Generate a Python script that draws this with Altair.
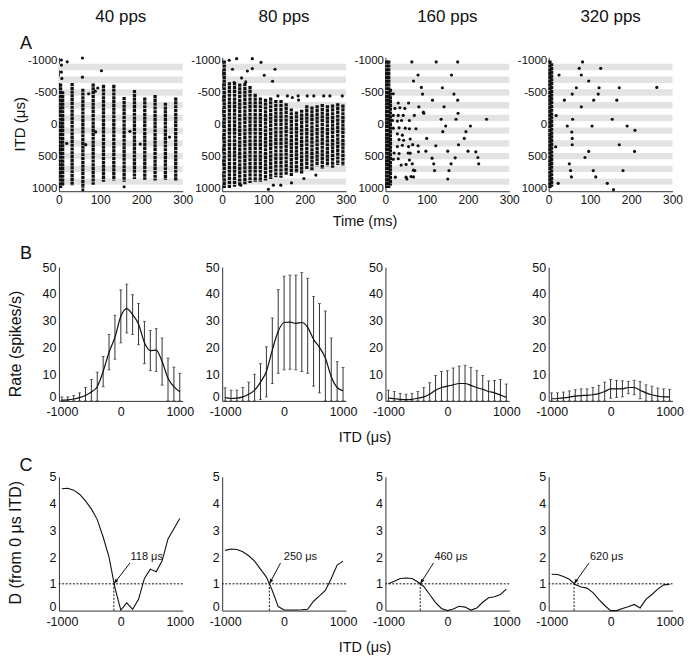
import math
import altair as alt
import pandas as pd

FONT = "Liberation Sans"
INK = "#111111"
W, H = 124, 134

HEADERS = ["40 pps", "80 pps", "160 pps", "320 pps"]
TIME_SPAN = [0, 300]

# ---------- Row A: raster ----------
BAND_ITD = [-900, -700, -500, -300, -100, 100, 300, 500, 700, 900]

# dense spike columns: (time ms, ITD from, ITD to)
SEG_40 = [(4, -640, 1000), (9, -520, 960), (32, -650, 960), (58, -560, 1000),
          (83, -640, 950), (108, -620, 900), (133, -620, 880), (158, -430, 900),
          (183, -540, 860), (208, -420, 870), (233, -460, 880), (258, -340, 870),
          (283, -420, 880)]
DOT_40 = [(6, -1010), (6, -930), (6, -820), (7, -720), (20, -980), (57, -1040),
          (57, -740), (103, -840), (72, -480), (88, -520), (94, -570), (19, 300),
          (65, 320), (89, 120), (172, 110), (197, 310), (268, 200), (158, 980),
          (58, 1030)]

SEG_80 = [(5, -1000, 1000), (17.5, -660, 1000), (30, -660, 980), (42.5, -640, 960),
          (55, -650, 940), (67.5, -600, 920), (80, -480, 900), (92.5, -420, 900),
          (105, -400, 880), (117.5, -420, 860), (130, -380, 830), (142.5, -380, 840),
          (155, -330, 800), (167.5, -250, 820), (180, -200, 760), (192.5, -230, 780),
          (205, -300, 700), (217.5, -280, 720), (230, -300, 660), (242.5, -320, 700),
          (255, -300, 660), (267.5, -310, 680), (280, -330, 640), (292.5, -310, 650)]
DOT_80 = [(35, -1030), (73, -1030), (94, -973), (25, -864), (61, -837), (73, -874),
          (128, -864), (102, -770), (122, -676), (47, -728), (29, -655), (57, -665),
          (17, -1005), (135, -446), (158, -446), (184, -446), (206, -446), (222, -446),
          (246, -446), (261, -446), (291, -446), (112, 1020), (124, 955), (142, 955),
          (168, 918), (198, 850), (45, 955), (227, 797), (170, -420), (185, -380)]

SEG_160 = [(3, -1000, 1000), (8, -1000, 1000), (12, -560, 960)]
DOT_160 = [(19, -480), (31, -335), (56, -335), (19, -140), (31, -140), (43, -140),
           (17, -60), (29, -50), (39, -60), (58, -60), (70, -140), (92, -190),
           (19, 60), (33, 55), (48, 60), (58, 70), (74, 70), (29, 150), (41, 170),
           (33, 240), (44, 250), (60, 230), (29, 350), (41, 330), (56, 350), (66, 320),
           (21, 450), (33, 460), (55, 450), (19, 550), (31, 540), (58, 560), (38, 640),
           (50, 630), (68, 720), (24, 830), (50, 830), (62, 820), (23, -250), (35, -260),
           (47, -250), (64, -979), (123, -979), (175, -979), (79, -774), (160, -774),
           (68, -679), (87, -579), (138, -574), (90, -474), (166, -474), (114, -379),
           (175, -379), (142, -274), (81, -274), (135, -79), (171, -79), (245, -79),
           (93, -174), (176, -174), (146, 26), (206, 26), (139, 116), (195, 116),
           (100, 221), (191, 221), (79, 337), (122, 337), (177, 321), (98, 421),
           (151, 421), (200, 421), (219, 432), (113, 532), (169, 526), (224, 521),
           (65, 621), (117, 621), (159, 621), (226, 621), (154, 726), (119, 726),
           (71, 726), (52, 858), (151, 858), (68, 826), (60, 453), (80, 430)]

SEG_320 = [(3, -1000, 1000), (7, -960, 980)]
DOT_320 = [(82, -979), (74, -879), (126, -879), (25, -774), (79, -774), (97, -679),
           (67, -574), (122, -574), (171, -574), (262, -579), (57, -474), (120, -474),
           (38, -379), (109, -379), (165, -379), (79, -274), (18, -137), (58, -79),
           (154, -79), (45, 26), (105, 26), (190, 26), (209, 95), (56, 121), (57, 221),
           (57, 321), (171, 321), (17, 353), (97, 426), (208, 426), (88, 521), (50, 621),
           (53, 726), (108, 726), (180, 726), (55, 826), (114, 826), (23, 926),
           (142, 926), (157, 1026)]

SEGS = [SEG_40, SEG_80, SEG_160, SEG_320]
DOTS = [DOT_40, DOT_80, DOT_160, DOT_320]

# ---------- Row B: rate vs ITD ----------
ITD = [-1000, -900, -800, -700, -600, -500, -400, -300, -200, -100, 0,
       100, 200, 300, 400, 500, 600, 700, 800, 900, 1000]

RATE_40 = [0.3, 0.4, 0.7, 1.2, 2.0, 3.3, 5.3, 11.0, 18.2, 23.8, 31.6, 34.5, 32.2,
           28.7, 21.8, 18.8, 19.0, 14.7, 8.5, 5.3, 3.4]
HI_40 = [1.5, 1.5, 2, 3, 5, 8, 10.7, 16.6, 24.8, 32, 41.5, 43.6, 39.7, 36.4, 29.7,
         26.3, 27, 23.5, 16, 12.6, 10.3]
LO_40 = [0, 0, 0, 0, 0, 0, 0, 5.3, 11.6, 15.6, 21.7, 25.4, 24.8, 21, 13.9, 11.3, 11,
         5.9, 0, 0, 0]

RATE_80 = [1.2, 0.9, 1.0, 1.5, 2.5, 4.0, 7.0, 11.0, 19.0, 26.0, 29.3, 29.4, 29.0,
           29.3, 27.5, 23.0, 20.0, 16.0, 9.0, 5.0, 3.8]
HI_80 = [4.9, 4, 4, 5, 7, 10, 13.9, 20.2, 31, 41.6, 46.6, 47, 47, 48, 45.8, 39, 36.4,
         33.6, 23.5, 14.7, 12.5]
LO_80 = [0, 0, 0, 0, 0, 0, 0.5, 1.5, 6.5, 10.3, 11.6, 11.8, 11.6, 11, 10.3, 5.5, 3,
         0, 0, 0, 0]

RATE_160 = [1.0, 0.8, 0.6, 0.5, 0.6, 1.0, 1.5, 2.5, 4.0, 5.0, 5.5, 6.0, 6.5, 6.5,
            5.8, 5.0, 4.3, 3.5, 3.0, 2.2, 1.3]
HI_160 = [4, 3.5, 2.8, 2.5, 2.8, 3.5, 5, 6.8, 9.5, 11, 11.3, 12.3, 13, 13.3, 12.5,
          11.3, 9.5, 7.5, 7.6, 8, 6.3]
LO_160 = [0] * 21

RATE_320 = [0.8, 0.9, 1.1, 1.4, 1.8, 2.0, 2.1, 2.3, 2.7, 3.5, 4.5, 4.5, 4.5, 5.0,
            5.0, 4.0, 3.0, 2.3, 1.8, 1.5, 1.5]
HI_320 = [3, 3, 3.3, 3.7, 4.2, 4.5, 4.5, 5, 5.8, 7, 8, 7.7, 7.5, 7.3, 7.7, 7.2, 6,
          5.5, 4.8, 4.5, 4.3]
LO_320 = [0, 0, 0, 0, 0, 0, 0, 0, 0, 0, 1, 1.3, 1.5, 2.7, 2.3, 0.8, 0, 0, 0, 0, 0]

RATES = [RATE_40, RATE_80, RATE_160, RATE_320]
HIS = [HI_40, HI_80, HI_160, HI_320]
LOS = [LO_40, LO_80, LO_160, LO_320]

# ---------- Row C: D from 0 us ITD ----------
D_40 = [4.55, 4.57, 4.5, 4.35, 4.1, 3.8, 3.4, 2.75, 2.0, 0.85, 0.02, 0.29, 0.05,
        0.42, 1.2, 1.55, 1.45, 1.86, 2.68, 3.06, 3.44]
D_80 = [2.25, 2.3, 2.28, 2.2, 2.05, 1.85, 1.55, 1.25, 0.75, 0.15, 0.02, 0.02, 0.02,
        0.03, 0.05, 0.35, 0.55, 0.75, 1.2, 1.7, 1.85]
D_160 = [1.0, 1.1, 1.2, 1.22, 1.2, 1.07, 0.9, 0.6, 0.3, 0.08, 0.0, 0.06, 0.16, 0.13,
         0.02, 0.1, 0.31, 0.48, 0.52, 0.6, 0.8]
D_320 = [1.36, 1.35, 1.27, 1.17, 0.97, 0.88, 0.84, 0.67, 0.42, 0.19, 0.0, 0.0, 0.08,
         0.14, 0.23, 0.1, 0.42, 0.6, 0.8, 0.96, 0.98]
DS = [D_40, D_80, D_160, D_320]

THRESH = 1
CROSS_ITD = [-118, -250, -460, -620]
CROSS_LABEL = ["118 μs", "250 μs", "460 μs", "620 μs"]
LABEL_X = [165, -5, -220, -350]
LABEL_Y = [2.0, 2.0, 2.0, 2.0]
TAIL_X = [155, -60, -235, -365]
TAIL_Y = [1.78, 1.78, 1.78, 1.78]

ITD_DOMAIN = [-1050, 1050]
ARROW_SHAPE = "M0,0L-0.45,1.3L0.45,1.3Z"
LABEL_EXPR = "'' + datum.value"
ZERO_LIFT = {"condition": {"test": "datum.value === 0", "value": -4}, "value": 0}


def txt(s, x, y, size, angle=0, align="center"):
    return alt.Chart(pd.DataFrame({"s": [s]})).mark_text(
        font=FONT, fontSize=size, color=INK, align=align, baseline="middle",
        angle=angle).encode(x=alt.value(x), y=alt.value(y), text="s:N")


def ax(values, size=12.5, pad=3, offset=0):
    return alt.Axis(values=values, title=None, ticks=False, labelPadding=pad,
                    labelFlush=False, labelOverlap=False, labelExpr=LABEL_EXPR,
                    labelFontSize=size, labelOffset=offset)


def raster_panel(i):
    xs = alt.Scale(domain=TIME_SPAN, nice=False, zero=False)
    ys = alt.Scale(domain=[-1050, 1050], reverse=True, nice=False, zero=False)
    xa = ax([0, 100, 200, 300], size=12)
    ya = ax([-1000, -500, 0, 500, 1000], size=11.5, pad=2)
    bands = pd.DataFrame({"itd": BAND_ITD,
                          "t0": [TIME_SPAN[0]] * len(BAND_ITD),
                          "t1": [TIME_SPAN[1]] * len(BAND_ITD)})
    band = alt.Chart(bands).transform_calculate(
        lo="datum.itd - 50", hi="datum.itd + 50").mark_rect(color="#e3e3e3").encode(
        x=alt.X("t0:Q", scale=xs, axis=xa), x2="t1:Q",
        y=alt.Y("lo:Q", scale=ys, axis=ya), y2="hi:Q")
    segs = pd.DataFrame(SEGS[i], columns=["t", "a", "b"])
    seg = alt.Chart(segs).mark_rule(color=INK, strokeWidth=3.3,
                                    strokeDash=[3.2, 0.6]).encode(
        x=alt.X("t:Q", scale=xs, axis=xa),
        y=alt.Y("a:Q", scale=ys, axis=ya), y2="b:Q")
    dots = pd.DataFrame(DOTS[i], columns=["t", "itd"])
    dot = alt.Chart(dots).mark_circle(color=INK, size=10, opacity=1).encode(
        x=alt.X("t:Q", scale=xs, axis=xa), y=alt.Y("itd:Q", scale=ys, axis=ya))
    layers = [band, seg, dot, txt(HEADERS[i], W / 2, -40, 17)]
    if i == 0:
        layers += [txt("A", -33, -13, 18), txt("ITD (μs)", -39, 67, 15, angle=270)]
    if i == 1:
        layers += [txt("Time (ms)", 143, 165, 14.5)]
    return alt.layer(*layers).properties(width=W, height=H)


def rate_panel(i):
    xs = alt.Scale(domain=ITD_DOMAIN, nice=False, zero=False)
    ys = alt.Scale(domain=[0, 50], nice=False)
    xa = ax([-1000, 0, 1000], pad=5)
    ya = ax([0, 10, 20, 30, 40, 50], pad=3, offset=ZERO_LIFT)
    df = pd.DataFrame({"itd": ITD, "r": RATES[i], "lo": LOS[i], "hi": HIS[i]})
    base = alt.Chart(df)
    bars = base.mark_rule(color="#333333", strokeWidth=1).encode(
        x=alt.X("itd:Q", scale=xs, axis=xa), y=alt.Y("lo:Q", scale=ys, axis=ya), y2="hi:Q")
    cap_hi = base.mark_tick(orient="horizontal", size=3, thickness=1, color="#333333").encode(
        x=alt.X("itd:Q", scale=xs, axis=xa), y=alt.Y("hi:Q", scale=ys, axis=ya))
    cap_lo = base.mark_tick(orient="horizontal", size=3, thickness=1, color="#333333").encode(
        x=alt.X("itd:Q", scale=xs, axis=xa), y=alt.Y("lo:Q", scale=ys, axis=ya))
    line = base.mark_line(color=INK, strokeWidth=1.2, interpolate="monotone").encode(
        x=alt.X("itd:Q", scale=xs, axis=xa), y=alt.Y("r:Q", scale=ys, axis=ya))
    layers = [bars, cap_hi, cap_lo, line]
    if i == 0:
        layers += [txt("B", -33, -13, 18), txt("Rate (spikes/s)", -43, 77, 16, angle=270)]
    if i == 1:
        layers += [txt("ITD (μs)", 143, 171, 14.5)]
    return alt.layer(*layers).properties(width=W, height=H)


def d_panel(i):
    xs = alt.Scale(domain=ITD_DOMAIN, nice=False, zero=False)
    ys = alt.Scale(domain=[0, 5], nice=False)
    xa = ax([-1000, 0, 1000], pad=5)
    ya = ax([0, 1, 2, 3, 4, 5], pad=3, offset=ZERO_LIFT)
    df = pd.DataFrame({"itd": ITD, "d": DS[i]})
    curve = alt.Chart(df).mark_line(color=INK, strokeWidth=1.1).encode(
        x=alt.X("itd:Q", scale=xs, axis=xa), y=alt.Y("d:Q", scale=ys, axis=ya))
    hdash = alt.Chart(pd.DataFrame({"th": [THRESH]})).mark_rule(
        color=INK, strokeWidth=1, strokeDash=[2, 1.6]).encode(
        y=alt.Y("th:Q", scale=ys, axis=ya))
    ann = pd.DataFrame({"cx": [CROSS_ITD[i]], "cy": [THRESH], "y0": [0],
                        "tx": [TAIL_X[i]], "ty": [TAIL_Y[i]],
                        "lx": [LABEL_X[i]], "ly": [LABEL_Y[i]],
                        "label": [CROSS_LABEL[i]]})
    vdash = alt.Chart(ann).mark_rule(color=INK, strokeWidth=1, strokeDash=[2, 1.6]).encode(
        x=alt.X("cx:Q", scale=xs, axis=xa), y=alt.Y("y0:Q", scale=ys, axis=ya), y2="cy:Q")
    arrow = alt.Chart(ann).mark_rule(color=INK, strokeWidth=1).encode(
        x=alt.X("tx:Q", scale=xs, axis=xa), y=alt.Y("ty:Q", scale=ys, axis=ya),
        x2="cx:Q", y2="cy:Q")
    # arrowhead orientation follows the arrow's direction on screen
    dx = (CROSS_ITD[i] - TAIL_X[i]) * W / (ITD_DOMAIN[1] - ITD_DOMAIN[0])
    dy = -(THRESH - TAIL_Y[i]) * H / 5
    ang = math.degrees(math.atan2(dx, -dy)) % 360
    head = alt.Chart(ann).mark_point(shape=ARROW_SHAPE, filled=True, size=60,
                                     color=INK, opacity=1, angle=ang).encode(
        x=alt.X("cx:Q", scale=xs, axis=xa), y=alt.Y("cy:Q", scale=ys, axis=ya))
    label = alt.Chart(ann).mark_text(font=FONT, fontSize=11, color=INK,
                                     align="left", baseline="middle").encode(
        x=alt.X("lx:Q", scale=xs, axis=xa), y=alt.Y("ly:Q", scale=ys, axis=ya),
        text="label:N")
    layers = [curve, hdash, vdash, arrow, head, label]
    if i == 0:
        layers += [txt("C", -33, -11, 18), txt("D (from 0 μs ITD)", -43, 66, 16, angle=270)]
    if i == 1:
        layers += [txt("ITD (μs)", 143, 171, 14.5)]
    return alt.layer(*layers).properties(width=W, height=H)


panels = ([raster_panel(i) for i in range(4)] + [rate_panel(i) for i in range(4)]
          + [d_panel(i) for i in range(4)])

chart = alt.concat(*panels, columns=4, spacing={"row": 76, "column": 39.5},
                   bounds="flush").properties(
    padding=0, background="white"
).configure_view(stroke=None).configure_axis(
    labelFont=FONT, labelColor=INK, domainColor="#333333",
    domainWidth=1, grid=False)

chart.save("out.html", embed_options={"renderer": "svg", "actions": False})
